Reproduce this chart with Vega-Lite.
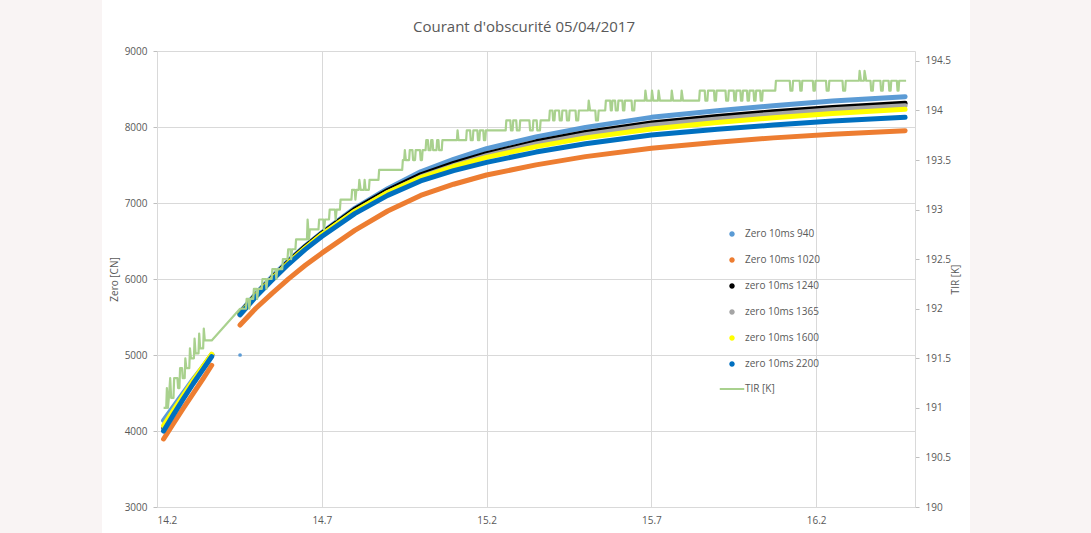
{
  "$schema": "https://vega.github.io/schema/vega-lite/v6.json",
  "width": 758,
  "height": 456,
  "autosize": {"type": "none"},
  "padding": {"left": 157, "top": 51, "right": 176, "bottom": 26},
  "background": "#f9f4f4",
  "title": {"text": "Courant d'obscurité 05/04/2017", "fontSize": 15, "font": "Open Sans", "fontWeight": "normal", "color": "#595959", "anchor": "middle", "frame": "group", "dx": -12, "offset": 11},
  "config": {
    "view": {"fill": "white", "stroke": "white", "strokeWidth": 110},
    "font": "Open Sans",
    "axis": {"labelColor": "#595959", "titleColor": "#595959", "labelFontSize": 10, "titleFontSize": 10, "titleFontWeight": "normal", "gridColor": "#d9d9d9", "domainColor": "#d9d9d9", "tickColor": "#bfbfbf", "labelFont": "Open Sans", "titleFont": "Open Sans"},
    "legend": {"orient": "none", "legendX": 570, "legendY": 178, "labelFontSize": 10, "labelColor": "#595959", "labelFont": "Open Sans", "symbolSize": 100, "rowPadding": 14, "labelOffset": 8, "padding": 0, "symbolStrokeWidth": 2}
  },
  "datasets": {
    "zero": [
      {"s": "Zero 10ms 940", "g": 1, "x": 14.22, "v": 4140}, {"s": "Zero 10ms 940", "g": 1, "x": 14.25, "v": 4320}, {"s": "Zero 10ms 940", "g": 1, "x": 14.28, "v": 4500}, {"s": "Zero 10ms 940", "g": 1, "x": 14.31, "v": 4680}, {"s": "Zero 10ms 940", "g": 1, "x": 14.34, "v": 4850}, {"s": "Zero 10ms 940", "g": 1, "x": 14.366, "v": 5005},
      {"s": "Zero 10ms 940", "g": 2, "x": 14.452, "v": 5560}, {"s": "Zero 10ms 940", "g": 2, "x": 14.5, "v": 5805}, {"s": "Zero 10ms 940", "g": 2, "x": 14.55, "v": 6035}, {"s": "Zero 10ms 940", "g": 2, "x": 14.6, "v": 6245}, {"s": "Zero 10ms 940", "g": 2, "x": 14.65, "v": 6435}, {"s": "Zero 10ms 940", "g": 2, "x": 14.7, "v": 6610}, {"s": "Zero 10ms 940", "g": 2, "x": 14.8, "v": 6930}, {"s": "Zero 10ms 940", "g": 2, "x": 14.9, "v": 7188}, {"s": "Zero 10ms 940", "g": 2, "x": 15.0, "v": 7410}, {"s": "Zero 10ms 940", "g": 2, "x": 15.1, "v": 7575}, {"s": "Zero 10ms 940", "g": 2, "x": 15.2, "v": 7715}, {"s": "Zero 10ms 940", "g": 2, "x": 15.35, "v": 7870}, {"s": "Zero 10ms 940", "g": 2, "x": 15.5, "v": 7995}, {"s": "Zero 10ms 940", "g": 2, "x": 15.7, "v": 8127}, {"s": "Zero 10ms 940", "g": 2, "x": 15.9, "v": 8215}, {"s": "Zero 10ms 940", "g": 2, "x": 16.07, "v": 8280}, {"s": "Zero 10ms 940", "g": 2, "x": 16.25, "v": 8341}, {"s": "Zero 10ms 940", "g": 2, "x": 16.47, "v": 8399},
      {"s": "Zero 10ms 1020", "g": 1, "x": 14.22, "v": 3895}, {"s": "Zero 10ms 1020", "g": 1, "x": 14.25, "v": 4100}, {"s": "Zero 10ms 1020", "g": 1, "x": 14.28, "v": 4300}, {"s": "Zero 10ms 1020", "g": 1, "x": 14.31, "v": 4495}, {"s": "Zero 10ms 1020", "g": 1, "x": 14.34, "v": 4690}, {"s": "Zero 10ms 1020", "g": 1, "x": 14.366, "v": 4865},
      {"s": "Zero 10ms 1020", "g": 2, "x": 14.452, "v": 5395}, {"s": "Zero 10ms 1020", "g": 2, "x": 14.5, "v": 5615}, {"s": "Zero 10ms 1020", "g": 2, "x": 14.55, "v": 5815}, {"s": "Zero 10ms 1020", "g": 2, "x": 14.6, "v": 6005}, {"s": "Zero 10ms 1020", "g": 2, "x": 14.65, "v": 6180}, {"s": "Zero 10ms 1020", "g": 2, "x": 14.7, "v": 6340}, {"s": "Zero 10ms 1020", "g": 2, "x": 14.8, "v": 6640}, {"s": "Zero 10ms 1020", "g": 2, "x": 14.9, "v": 6895}, {"s": "Zero 10ms 1020", "g": 2, "x": 15.0, "v": 7100}, {"s": "Zero 10ms 1020", "g": 2, "x": 15.1, "v": 7247}, {"s": "Zero 10ms 1020", "g": 2, "x": 15.2, "v": 7368}, {"s": "Zero 10ms 1020", "g": 2, "x": 15.35, "v": 7502}, {"s": "Zero 10ms 1020", "g": 2, "x": 15.5, "v": 7610}, {"s": "Zero 10ms 1020", "g": 2, "x": 15.7, "v": 7720}, {"s": "Zero 10ms 1020", "g": 2, "x": 15.9, "v": 7798}, {"s": "Zero 10ms 1020", "g": 2, "x": 16.07, "v": 7857}, {"s": "Zero 10ms 1020", "g": 2, "x": 16.25, "v": 7906}, {"s": "Zero 10ms 1020", "g": 2, "x": 16.47, "v": 7951},
      {"s": "zero 10ms 1240", "g": 1, "x": 14.22, "v": 4030}, {"s": "zero 10ms 1240", "g": 1, "x": 14.25, "v": 4240}, {"s": "zero 10ms 1240", "g": 1, "x": 14.28, "v": 4450}, {"s": "zero 10ms 1240", "g": 1, "x": 14.31, "v": 4650}, {"s": "zero 10ms 1240", "g": 1, "x": 14.34, "v": 4840}, {"s": "zero 10ms 1240", "g": 1, "x": 14.366, "v": 5000},
      {"s": "zero 10ms 1240", "g": 2, "x": 14.452, "v": 5545}, {"s": "zero 10ms 1240", "g": 2, "x": 14.5, "v": 5790}, {"s": "zero 10ms 1240", "g": 2, "x": 14.55, "v": 6015}, {"s": "zero 10ms 1240", "g": 2, "x": 14.6, "v": 6230}, {"s": "zero 10ms 1240", "g": 2, "x": 14.65, "v": 6425}, {"s": "zero 10ms 1240", "g": 2, "x": 14.7, "v": 6600}, {"s": "zero 10ms 1240", "g": 2, "x": 14.8, "v": 6915}, {"s": "zero 10ms 1240", "g": 2, "x": 14.9, "v": 7165}, {"s": "zero 10ms 1240", "g": 2, "x": 15.0, "v": 7370}, {"s": "zero 10ms 1240", "g": 2, "x": 15.1, "v": 7520}, {"s": "zero 10ms 1240", "g": 2, "x": 15.2, "v": 7650}, {"s": "zero 10ms 1240", "g": 2, "x": 15.35, "v": 7805}, {"s": "zero 10ms 1240", "g": 2, "x": 15.5, "v": 7928}, {"s": "zero 10ms 1240", "g": 2, "x": 15.7, "v": 8053}, {"s": "zero 10ms 1240", "g": 2, "x": 15.9, "v": 8137}, {"s": "zero 10ms 1240", "g": 2, "x": 16.07, "v": 8200}, {"s": "zero 10ms 1240", "g": 2, "x": 16.25, "v": 8258}, {"s": "zero 10ms 1240", "g": 2, "x": 16.47, "v": 8312},
      {"s": "zero 10ms 1365", "g": 1, "x": 14.22, "v": 4020}, {"s": "zero 10ms 1365", "g": 1, "x": 14.25, "v": 4230}, {"s": "zero 10ms 1365", "g": 1, "x": 14.28, "v": 4440}, {"s": "zero 10ms 1365", "g": 1, "x": 14.31, "v": 4640}, {"s": "zero 10ms 1365", "g": 1, "x": 14.34, "v": 4830}, {"s": "zero 10ms 1365", "g": 1, "x": 14.366, "v": 4990},
      {"s": "zero 10ms 1365", "g": 2, "x": 14.452, "v": 5525}, {"s": "zero 10ms 1365", "g": 2, "x": 14.5, "v": 5768}, {"s": "zero 10ms 1365", "g": 2, "x": 14.55, "v": 5992}, {"s": "zero 10ms 1365", "g": 2, "x": 14.6, "v": 6205}, {"s": "zero 10ms 1365", "g": 2, "x": 14.65, "v": 6400}, {"s": "zero 10ms 1365", "g": 2, "x": 14.7, "v": 6575}, {"s": "zero 10ms 1365", "g": 2, "x": 14.8, "v": 6890}, {"s": "zero 10ms 1365", "g": 2, "x": 14.9, "v": 7138}, {"s": "zero 10ms 1365", "g": 2, "x": 15.0, "v": 7343}, {"s": "zero 10ms 1365", "g": 2, "x": 15.1, "v": 7493}, {"s": "zero 10ms 1365", "g": 2, "x": 15.2, "v": 7622}, {"s": "zero 10ms 1365", "g": 2, "x": 15.35, "v": 7777}, {"s": "zero 10ms 1365", "g": 2, "x": 15.5, "v": 7898}, {"s": "zero 10ms 1365", "g": 2, "x": 15.7, "v": 8023}, {"s": "zero 10ms 1365", "g": 2, "x": 15.9, "v": 8106}, {"s": "zero 10ms 1365", "g": 2, "x": 16.07, "v": 8169}, {"s": "zero 10ms 1365", "g": 2, "x": 16.25, "v": 8227}, {"s": "zero 10ms 1365", "g": 2, "x": 16.47, "v": 8280},
      {"s": "zero 10ms 1600", "g": 1, "x": 14.22, "v": 4070}, {"s": "zero 10ms 1600", "g": 1, "x": 14.25, "v": 4270}, {"s": "zero 10ms 1600", "g": 1, "x": 14.28, "v": 4470}, {"s": "zero 10ms 1600", "g": 1, "x": 14.31, "v": 4665}, {"s": "zero 10ms 1600", "g": 1, "x": 14.34, "v": 4850}, {"s": "zero 10ms 1600", "g": 1, "x": 14.366, "v": 5010},
      {"s": "zero 10ms 1600", "g": 2, "x": 14.452, "v": 5540}, {"s": "zero 10ms 1600", "g": 2, "x": 14.5, "v": 5782}, {"s": "zero 10ms 1600", "g": 2, "x": 14.55, "v": 6005}, {"s": "zero 10ms 1600", "g": 2, "x": 14.6, "v": 6218}, {"s": "zero 10ms 1600", "g": 2, "x": 14.65, "v": 6410}, {"s": "zero 10ms 1600", "g": 2, "x": 14.7, "v": 6585}, {"s": "zero 10ms 1600", "g": 2, "x": 14.8, "v": 6890}, {"s": "zero 10ms 1600", "g": 2, "x": 14.9, "v": 7138}, {"s": "zero 10ms 1600", "g": 2, "x": 15.0, "v": 7335}, {"s": "zero 10ms 1600", "g": 2, "x": 15.1, "v": 7480}, {"s": "zero 10ms 1600", "g": 2, "x": 15.2, "v": 7600}, {"s": "zero 10ms 1600", "g": 2, "x": 15.35, "v": 7742}, {"s": "zero 10ms 1600", "g": 2, "x": 15.5, "v": 7857}, {"s": "zero 10ms 1600", "g": 2, "x": 15.7, "v": 7975}, {"s": "zero 10ms 1600", "g": 2, "x": 15.9, "v": 8060}, {"s": "zero 10ms 1600", "g": 2, "x": 16.07, "v": 8122}, {"s": "zero 10ms 1600", "g": 2, "x": 16.25, "v": 8179}, {"s": "zero 10ms 1600", "g": 2, "x": 16.47, "v": 8233},
      {"s": "zero 10ms 2200", "g": 1, "x": 14.22, "v": 4000}, {"s": "zero 10ms 2200", "g": 1, "x": 14.25, "v": 4215}, {"s": "zero 10ms 2200", "g": 1, "x": 14.28, "v": 4425}, {"s": "zero 10ms 2200", "g": 1, "x": 14.31, "v": 4625}, {"s": "zero 10ms 2200", "g": 1, "x": 14.34, "v": 4815}, {"s": "zero 10ms 2200", "g": 1, "x": 14.366, "v": 4980},
      {"s": "zero 10ms 2200", "g": 2, "x": 14.452, "v": 5530}, {"s": "zero 10ms 2200", "g": 2, "x": 14.5, "v": 5770}, {"s": "zero 10ms 2200", "g": 2, "x": 14.55, "v": 5990}, {"s": "zero 10ms 2200", "g": 2, "x": 14.6, "v": 6200}, {"s": "zero 10ms 2200", "g": 2, "x": 14.65, "v": 6390}, {"s": "zero 10ms 2200", "g": 2, "x": 14.7, "v": 6560}, {"s": "zero 10ms 2200", "g": 2, "x": 14.8, "v": 6860}, {"s": "zero 10ms 2200", "g": 2, "x": 14.9, "v": 7100}, {"s": "zero 10ms 2200", "g": 2, "x": 15.0, "v": 7290}, {"s": "zero 10ms 2200", "g": 2, "x": 15.1, "v": 7425}, {"s": "zero 10ms 2200", "g": 2, "x": 15.2, "v": 7535}, {"s": "zero 10ms 2200", "g": 2, "x": 15.35, "v": 7670}, {"s": "zero 10ms 2200", "g": 2, "x": 15.5, "v": 7780}, {"s": "zero 10ms 2200", "g": 2, "x": 15.7, "v": 7895}, {"s": "zero 10ms 2200", "g": 2, "x": 15.9, "v": 7970}, {"s": "zero 10ms 2200", "g": 2, "x": 16.07, "v": 8025}, {"s": "zero 10ms 2200", "g": 2, "x": 16.25, "v": 8078}, {"s": "zero 10ms 2200", "g": 2, "x": 16.47, "v": 8128}
    ],
    "lone": [{"s": "Zero 10ms 940", "x": 14.452, "v": 5000}],
    "tir": [
      {"x": 14.220, "t": 191.0}, {"x": 14.228, "t": 191.0}, {"x": 14.230, "t": 191.2}, {"x": 14.233, "t": 191.0}, {"x": 14.236, "t": 191.1}, {"x": 14.240, "t": 191.3}, {"x": 14.243, "t": 191.1}, {"x": 14.250, "t": 191.1}, {"x": 14.252, "t": 191.3}, {"x": 14.262, "t": 191.3}, {"x": 14.264, "t": 191.2}, {"x": 14.268, "t": 191.2}, {"x": 14.270, "t": 191.4}, {"x": 14.276, "t": 191.4}, {"x": 14.278, "t": 191.3}, {"x": 14.284, "t": 191.3}, {"x": 14.286, "t": 191.5}, {"x": 14.289, "t": 191.4}, {"x": 14.298, "t": 191.4}, {"x": 14.300, "t": 191.6}, {"x": 14.303, "t": 191.5}, {"x": 14.312, "t": 191.5}, {"x": 14.314, "t": 191.7}, {"x": 14.317, "t": 191.55}, {"x": 14.326, "t": 191.55}, {"x": 14.328, "t": 191.75}, {"x": 14.331, "t": 191.6}, {"x": 14.340, "t": 191.6}, {"x": 14.342, "t": 191.8}, {"x": 14.345, "t": 191.68}, {"x": 14.366, "t": 191.68},
      {"x": 14.452, "t": 192.0}, {"x": 14.470, "t": 192.0}, {"x": 14.472, "t": 192.1}, {"x": 14.478, "t": 192.1}, {"x": 14.480, "t": 192.0}, {"x": 14.483, "t": 192.1}, {"x": 14.492, "t": 192.1}, {"x": 14.494, "t": 192.2}, {"x": 14.502, "t": 192.2}, {"x": 14.504, "t": 192.1}, {"x": 14.507, "t": 192.2}, {"x": 14.518, "t": 192.2}, {"x": 14.520, "t": 192.3}, {"x": 14.530, "t": 192.3}, {"x": 14.532, "t": 192.2}, {"x": 14.535, "t": 192.3}, {"x": 14.548, "t": 192.3}, {"x": 14.550, "t": 192.4}, {"x": 14.560, "t": 192.4}, {"x": 14.562, "t": 192.3}, {"x": 14.565, "t": 192.4}, {"x": 14.580, "t": 192.4}, {"x": 14.582, "t": 192.5}, {"x": 14.596, "t": 192.5}, {"x": 14.598, "t": 192.6}, {"x": 14.605, "t": 192.6}, {"x": 14.607, "t": 192.5}, {"x": 14.610, "t": 192.6}, {"x": 14.620, "t": 192.6}, {"x": 14.622, "t": 192.7}, {"x": 14.655, "t": 192.7}, {"x": 14.657, "t": 192.9}, {"x": 14.661, "t": 192.7}, {"x": 14.664, "t": 192.8}, {"x": 14.690, "t": 192.8}, {"x": 14.692, "t": 192.9}, {"x": 14.705, "t": 192.9}, {"x": 14.707, "t": 192.8}, {"x": 14.710, "t": 192.9}, {"x": 14.722, "t": 192.9}, {"x": 14.724, "t": 193.0}, {"x": 14.740, "t": 193.0}, {"x": 14.742, "t": 192.9}, {"x": 14.745, "t": 193.0}, {"x": 14.755, "t": 193.0}, {"x": 14.757, "t": 193.1}, {"x": 14.790, "t": 193.1}, {"x": 14.792, "t": 193.2}, {"x": 14.800, "t": 193.2}, {"x": 14.802, "t": 193.1}, {"x": 14.805, "t": 193.2}, {"x": 14.812, "t": 193.2}, {"x": 14.814, "t": 193.3}, {"x": 14.818, "t": 193.2}, {"x": 14.828, "t": 193.2}, {"x": 14.830, "t": 193.3}, {"x": 14.833, "t": 193.2}, {"x": 14.843, "t": 193.2}, {"x": 14.845, "t": 193.3}, {"x": 14.872, "t": 193.3}, {"x": 14.874, "t": 193.4}, {"x": 14.944, "t": 193.4}, {"x": 14.946, "t": 193.5}, {"x": 14.950, "t": 193.5}, {"x": 14.952, "t": 193.6}, {"x": 14.955, "t": 193.5}, {"x": 14.965, "t": 193.5}, {"x": 14.967, "t": 193.6}, {"x": 14.975, "t": 193.6}, {"x": 14.977, "t": 193.5}, {"x": 14.983, "t": 193.5}, {"x": 14.985, "t": 193.6}, {"x": 14.998, "t": 193.6}, {"x": 15.000, "t": 193.5}, {"x": 15.004, "t": 193.5}, {"x": 15.006, "t": 193.6}, {"x": 15.015, "t": 193.6}, {"x": 15.017, "t": 193.7}, {"x": 15.022, "t": 193.7}, {"x": 15.024, "t": 193.6}, {"x": 15.030, "t": 193.6}, {"x": 15.032, "t": 193.7}, {"x": 15.036, "t": 193.7}, {"x": 15.038, "t": 193.6}, {"x": 15.048, "t": 193.6}, {"x": 15.050, "t": 193.7}, {"x": 15.054, "t": 193.7}, {"x": 15.056, "t": 193.6}, {"x": 15.064, "t": 193.6}, {"x": 15.066, "t": 193.7}, {"x": 15.110, "t": 193.7}, {"x": 15.112, "t": 193.8}, {"x": 15.115, "t": 193.7}, {"x": 15.138, "t": 193.7}, {"x": 15.140, "t": 193.8}, {"x": 15.150, "t": 193.8}, {"x": 15.152, "t": 193.7}, {"x": 15.158, "t": 193.7}, {"x": 15.160, "t": 193.8}, {"x": 15.172, "t": 193.8}, {"x": 15.174, "t": 193.7}, {"x": 15.178, "t": 193.7}, {"x": 15.180, "t": 193.8}, {"x": 15.190, "t": 193.8}, {"x": 15.192, "t": 193.7}, {"x": 15.196, "t": 193.7}, {"x": 15.198, "t": 193.8}, {"x": 15.258, "t": 193.8}, {"x": 15.260, "t": 193.9}, {"x": 15.272, "t": 193.9}, {"x": 15.274, "t": 193.8}, {"x": 15.279, "t": 193.8}, {"x": 15.281, "t": 193.9}, {"x": 15.290, "t": 193.9}, {"x": 15.292, "t": 193.8}, {"x": 15.300, "t": 193.8}, {"x": 15.302, "t": 193.9}, {"x": 15.330, "t": 193.9}, {"x": 15.332, "t": 193.8}, {"x": 15.340, "t": 193.8}, {"x": 15.342, "t": 193.9}, {"x": 15.352, "t": 193.9}, {"x": 15.354, "t": 193.8}, {"x": 15.362, "t": 193.8}, {"x": 15.364, "t": 193.9}, {"x": 15.390, "t": 193.9}, {"x": 15.392, "t": 194.0}, {"x": 15.400, "t": 194.0}, {"x": 15.402, "t": 193.9}, {"x": 15.406, "t": 193.9}, {"x": 15.408, "t": 194.0}, {"x": 15.420, "t": 194.0}, {"x": 15.422, "t": 193.9}, {"x": 15.428, "t": 193.9}, {"x": 15.430, "t": 194.0}, {"x": 15.442, "t": 194.0}, {"x": 15.444, "t": 193.9}, {"x": 15.450, "t": 193.9}, {"x": 15.452, "t": 194.0}, {"x": 15.470, "t": 194.0}, {"x": 15.472, "t": 193.9}, {"x": 15.478, "t": 193.9}, {"x": 15.480, "t": 194.0}, {"x": 15.508, "t": 194.0}, {"x": 15.510, "t": 194.1}, {"x": 15.514, "t": 194.0}, {"x": 15.530, "t": 194.0}, {"x": 15.532, "t": 193.9}, {"x": 15.538, "t": 193.9}, {"x": 15.540, "t": 194.0}, {"x": 15.560, "t": 194.0}, {"x": 15.562, "t": 194.1}, {"x": 15.575, "t": 194.1}, {"x": 15.577, "t": 194.0}, {"x": 15.580, "t": 194.0}, {"x": 15.582, "t": 194.1}, {"x": 15.590, "t": 194.1}, {"x": 15.592, "t": 194.0}, {"x": 15.598, "t": 194.0}, {"x": 15.600, "t": 194.1}, {"x": 15.612, "t": 194.1}, {"x": 15.614, "t": 194.0}, {"x": 15.618, "t": 194.0}, {"x": 15.620, "t": 194.1}, {"x": 15.640, "t": 194.1}, {"x": 15.642, "t": 194.0}, {"x": 15.648, "t": 194.0}, {"x": 15.650, "t": 194.1}, {"x": 15.680, "t": 194.1}, {"x": 15.682, "t": 194.2}, {"x": 15.686, "t": 194.1}, {"x": 15.700, "t": 194.1}, {"x": 15.702, "t": 194.2}, {"x": 15.706, "t": 194.1}, {"x": 15.720, "t": 194.1}, {"x": 15.722, "t": 194.2}, {"x": 15.726, "t": 194.1}, {"x": 15.760, "t": 194.1}, {"x": 15.762, "t": 194.2}, {"x": 15.766, "t": 194.1}, {"x": 15.790, "t": 194.1}, {"x": 15.792, "t": 194.2}, {"x": 15.796, "t": 194.1}, {"x": 15.845, "t": 194.1}, {"x": 15.847, "t": 194.2}, {"x": 15.862, "t": 194.2}, {"x": 15.864, "t": 194.1}, {"x": 15.870, "t": 194.1}, {"x": 15.872, "t": 194.2}, {"x": 15.890, "t": 194.2}, {"x": 15.892, "t": 194.1}, {"x": 15.896, "t": 194.1}, {"x": 15.898, "t": 194.2}, {"x": 15.925, "t": 194.2}, {"x": 15.927, "t": 194.1}, {"x": 15.933, "t": 194.1}, {"x": 15.935, "t": 194.2}, {"x": 15.950, "t": 194.2}, {"x": 15.952, "t": 194.1}, {"x": 15.956, "t": 194.1}, {"x": 15.958, "t": 194.2}, {"x": 15.970, "t": 194.2}, {"x": 15.972, "t": 194.1}, {"x": 15.976, "t": 194.1}, {"x": 15.978, "t": 194.2}, {"x": 15.990, "t": 194.2}, {"x": 15.992, "t": 194.1}, {"x": 15.996, "t": 194.1}, {"x": 15.998, "t": 194.2}, {"x": 16.010, "t": 194.2}, {"x": 16.012, "t": 194.1}, {"x": 16.016, "t": 194.1}, {"x": 16.018, "t": 194.2}, {"x": 16.030, "t": 194.2}, {"x": 16.032, "t": 194.1}, {"x": 16.036, "t": 194.1}, {"x": 16.038, "t": 194.2}, {"x": 16.076, "t": 194.2}, {"x": 16.078, "t": 194.3}, {"x": 16.120, "t": 194.3}, {"x": 16.122, "t": 194.2}, {"x": 16.128, "t": 194.2}, {"x": 16.130, "t": 194.3}, {"x": 16.150, "t": 194.3}, {"x": 16.152, "t": 194.2}, {"x": 16.156, "t": 194.2}, {"x": 16.158, "t": 194.3}, {"x": 16.190, "t": 194.3}, {"x": 16.192, "t": 194.2}, {"x": 16.196, "t": 194.2}, {"x": 16.198, "t": 194.3}, {"x": 16.230, "t": 194.3}, {"x": 16.232, "t": 194.2}, {"x": 16.238, "t": 194.2}, {"x": 16.240, "t": 194.3}, {"x": 16.280, "t": 194.3}, {"x": 16.282, "t": 194.2}, {"x": 16.288, "t": 194.2}, {"x": 16.290, "t": 194.3}, {"x": 16.330, "t": 194.3}, {"x": 16.332, "t": 194.4}, {"x": 16.336, "t": 194.3}, {"x": 16.345, "t": 194.3}, {"x": 16.347, "t": 194.4}, {"x": 16.352, "t": 194.3}, {"x": 16.365, "t": 194.3}, {"x": 16.367, "t": 194.2}, {"x": 16.372, "t": 194.2}, {"x": 16.374, "t": 194.3}, {"x": 16.395, "t": 194.3}, {"x": 16.397, "t": 194.2}, {"x": 16.402, "t": 194.2}, {"x": 16.404, "t": 194.3}, {"x": 16.420, "t": 194.3}, {"x": 16.422, "t": 194.2}, {"x": 16.426, "t": 194.2}, {"x": 16.428, "t": 194.3}, {"x": 16.445, "t": 194.3}, {"x": 16.447, "t": 194.2}, {"x": 16.450, "t": 194.2}, {"x": 16.452, "t": 194.3}, {"x": 16.473, "t": 194.3}
    ]
  },
  "layer": [
    {
      "layer": [
        {
          "data": {"name": "zero"},
          "mark": {"type": "line", "strokeCap": "round", "strokeJoin": "round"},
          "encoding": {
            "x": {"field": "x", "type": "quantitative", "scale": {"domain": [14.2, 16.5], "nice": false, "zero": false}, "axis": {"values": [14.2, 14.7, 15.2, 15.7, 16.2], "format": ".1f", "title": null, "ticks": false, "tickSize": 0, "labelPadding": 8, "grid": true}},
            "y": {"field": "v", "type": "quantitative", "scale": {"domain": [3000, 9000], "nice": false, "zero": false}, "axis": {"orient": "left", "values": [3000, 4000, 5000, 6000, 7000, 8000, 9000], "format": "d", "title": "Zero [CN]", "tickSize": 4, "labelPadding": 6, "titlePadding": 5, "grid": true}},
            "color": {
              "field": "s", "type": "nominal",
              "scale": {"domain": ["Zero 10ms 940", "Zero 10ms 1020", "zero 10ms 1240", "zero 10ms 1365", "zero 10ms 1600", "zero 10ms 2200", "TIR [K]"], "range": ["#5b9bd5", "#ed7d31", "#000000", "#a5a5a5", "#ffff00", "#0070c0", "#a9d18e"]},
              "legend": {
                "title": null,
                "encode": {
                  "symbols": {
                    "update": {
                      "shape": {"signal": "datum.value === 'TIR [K]' ? 'stroke' : 'circle'"},
                      "size": {"signal": "datum.value === 'TIR [K]' ? 600 : 12"},
                      "fill": {"signal": "datum.value === 'TIR [K]' ? 'transparent' : scale('color', datum.value)"},
                      "stroke": {"signal": "datum.value === 'TIR [K]' ? scale('color', datum.value) : 'transparent'"},
                      "strokeWidth": {"value": 2},
                      "opacity": {"value": 1}
                    }
                  }
                }
              }
            },
            "detail": {"field": "g"},
            "strokeWidth": {"field": "s", "type": "nominal", "scale": {"domain": ["Zero 10ms 940", "Zero 10ms 1020", "zero 10ms 1240", "zero 10ms 1365", "zero 10ms 1600", "zero 10ms 2200"], "range": [5, 5, 3, 4, 5, 5]}, "legend": null}
          }
        },
        {
          "data": {"name": "lone"},
          "mark": {"type": "circle", "size": 14, "opacity": 1},
          "encoding": {
            "x": {"field": "x", "type": "quantitative"},
            "y": {"field": "v", "type": "quantitative"},
            "color": {"field": "s", "type": "nominal"}
          }
        }
      ]
    },
    {
      "data": {"name": "tir"},
      "mark": {"type": "line", "strokeWidth": 2.2, "strokeJoin": "round"},
      "encoding": {
        "x": {"field": "x", "type": "quantitative"},
        "y": {"field": "t", "type": "quantitative", "scale": {"domain": [190, 194.6], "nice": false, "zero": false}, "axis": {"orient": "right", "values": [190, 190.5, 191, 191.5, 192, 192.5, 193, 193.5, 194, 194.5], "format": "~g", "title": "TIR [K]", "titleAngle": 270, "tickSize": 4, "labelPadding": 6, "titlePadding": 10, "grid": false}},
        "color": {"datum": "TIR [K]", "type": "nominal"}
      }
    }
  ],
  "resolve": {"scale": {"y": "independent"}}
}
